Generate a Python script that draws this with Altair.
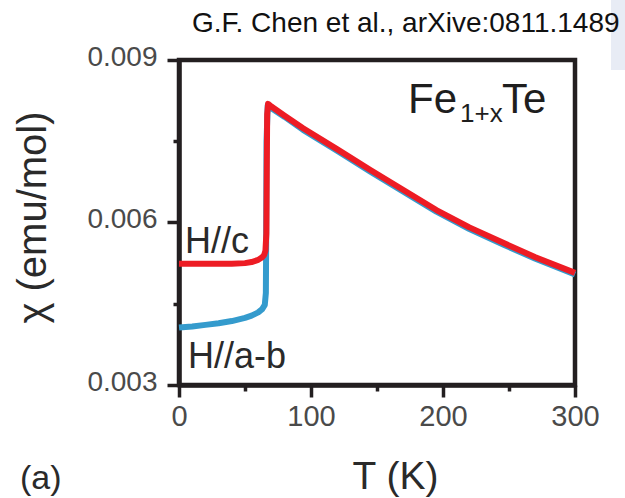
import altair as alt
import pandas as pd

# ---- data ----
T_C = [0, 10, 20, 30, 40, 50, 55, 60, 63, 64.5, 65.5, 66.2, 66.5, 66.8, 67.5, 70, 80, 94, 120, 145, 170, 195, 220, 246, 270, 300]
CHI_C = [0.00524, 0.00524, 0.00524, 0.00524, 0.00524, 0.00525, 0.00527, 0.00531, 0.00536, 0.0054, 0.00548, 0.0058, 0.0070, 0.0080, 0.00819,
         0.00814, 0.00797, 0.00774, 0.00735, 0.00697, 0.00660, 0.00623, 0.00591, 0.00562, 0.00536, 0.00507]

T_AB = [0, 10, 20, 30, 40, 50, 55, 60, 63, 65, 65.8, 66.0, 66.3, 67.2, 70, 80, 94, 120, 145, 170, 195, 220, 246, 270, 300]
CHI_AB = [0.00406, 0.00408, 0.00411, 0.00414, 0.00418, 0.00424, 0.00428, 0.00434, 0.00440, 0.00448, 0.0047, 0.0055, 0.0075, 0.00816,
          0.00811, 0.00795, 0.00771, 0.00732, 0.00694, 0.00657, 0.00620, 0.00588, 0.00559, 0.00533, 0.00504]

X_TICKS = [0, 50, 100, 150, 200, 250, 300]
Y_TICKS = [0.003, 0.0045, 0.006, 0.0075, 0.009]
X_DOMAIN = [0, 300]
Y_DOMAIN = [0.003, 0.009]

SOURCE = ["G.F. Chen et al., arXive:0811.1489"]
X_TITLE = "T (K)"
Y_TITLE = "χ (emu/mol)"
LABEL_C = ["H//c"]
LABEL_AB = ["H//a-b"]
PANEL = ["(a)"]
COMPOUND_MAIN = ["Fe"]
COMPOUND_SUB = ["1+x"]
COMPOUND_END = ["Te"]

FONT = "Liberation Sans"
INK = "#231F20"
RED = "#ED1C24"
BLUE = "#349BCD"

df_c = pd.DataFrame({"T": T_C, "chi": CHI_C})
df_ab = pd.DataFrame({"T": T_AB, "chi": CHI_AB})

x_axis = alt.Axis(
    values=X_TICKS,
    title=X_TITLE,
    labelExpr="datum.value % 100 == 0 ? datum.label : ''",
    tickSize={"condition": {"test": "datum.value % 100 == 0", "value": 12}, "value": 6},
    labelFontSize=29,
    labelPadding=5,
    labelFlush=False,
    labelOverlap=False,
    titleFontSize=39,
    titleX=216,
    titleY=103,
    titleAlign="center",
    titleBaseline="alphabetic",
    titleFontWeight="normal",
)
y_axis = alt.Axis(
    values=Y_TICKS,
    title=Y_TITLE,
    labelExpr="round(datum.value * 2000) % 6 == 0 ? format(datum.value, '.3f') : ''",
    tickSize={"condition": {"test": "round(datum.value * 2000) % 6 == 0", "value": 12}, "value": 6},
    labelFontSize=28,
    labelPadding=10,
    labelOffset=-3,
    labelFlush=False,
    labelOverlap=False,
    titleFontSize=40,
    titleAngle=270,
    titleX=-134,
    titleY=157,
    titleAlign="center",
    titleBaseline="alphabetic",
    titleFontWeight="normal",
)

x_enc = alt.X("T:Q", scale=alt.Scale(domain=X_DOMAIN, nice=False, zero=False), axis=x_axis)
y_enc = alt.Y("chi:Q", scale=alt.Scale(domain=Y_DOMAIN, nice=False, zero=False), axis=y_axis)

line_ab = alt.Chart(df_ab).mark_line(color=BLUE, strokeWidth=6, strokeJoin="round").encode(x=x_enc, y=y_enc, order="T:Q")
line_c = alt.Chart(df_c).mark_line(color=RED, strokeWidth=6, strokeJoin="round").encode(x=x_enc, y=y_enc, order="T:Q")

# light slide artefact at the top right
bg_rect = alt.Chart(pd.DataFrame({"k": [0]})).mark_rect(color="#E8ECF5").encode(
    x=alt.value(432), x2=alt.value(447), y=alt.value(-60), y2=alt.value(10)
)


def label(text, x, y, size, color="#2a2a2a"):
    return alt.Chart(pd.DataFrame({"t": text})).mark_text(
        align="left", baseline="alphabetic", font=FONT, fontSize=size, color=color
    ).encode(x=alt.value(x), y=alt.value(y), text="t:N")


chart = alt.layer(
    bg_rect,
    line_ab,
    line_c,
    label(SOURCE, 13, -28, 28, "#111111"),
    label(LABEL_C, 6, 193, 36),
    label(LABEL_AB, 9, 308, 36),
    label(COMPOUND_MAIN, 229, 53, 42, "#1e1e1e"),
    label(COMPOUND_SUB, 281, 62, 26, "#1e1e1e"),
    label(COMPOUND_END, 323, 53, 42, "#1e1e1e"),
    label(PANEL, -159, 429, 34),
).properties(
    width=396,
    height=325,
    padding={"left": 179, "top": 60, "right": 50, "bottom": 113},
    autosize=alt.AutoSizeParams(type="none"),
    background="white",
).configure_view(
    stroke=INK, strokeWidth=4.5
).configure_axis(
    grid=False,
    domainColor=INK,
    domainWidth=4.5,
    tickColor=INK,
    tickWidth=3.5,
    labelFont=FONT,
    labelColor="#4a4a4a",
    titleFont=FONT,
    titleColor="#2a2a2a",
)

chart.save("out.html", embed_options={"renderer": "svg", "actions": False})
